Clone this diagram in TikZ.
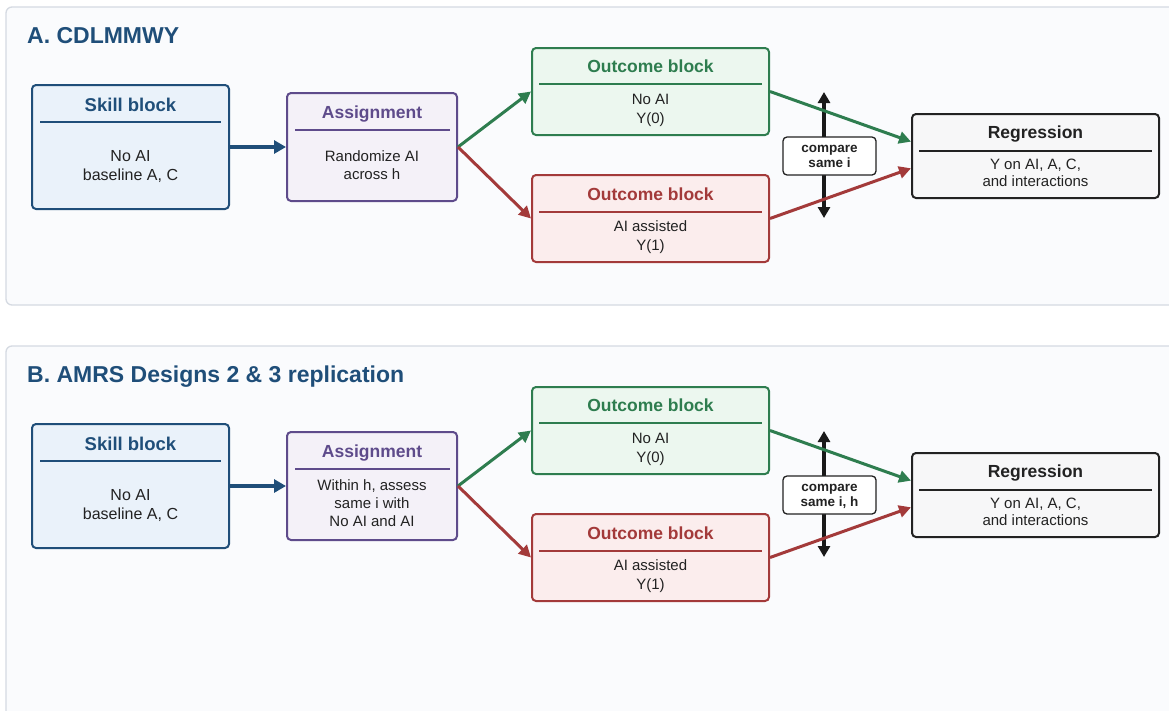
\documentclass[tikz,border=0pt]{standalone}
\usepackage{fontspec}
\setmainfont{Liberation Sans}
\usetikzlibrary{arrows.meta,calc}
\definecolor{titlec}{HTML}{1F4E79}
\definecolor{panelbd}{HTML}{D5DAE2}
\definecolor{panelfill}{HTML}{FAFBFD}
\definecolor{skillbd}{HTML}{1F4E79}
\definecolor{skillfill}{HTML}{EAF2FA}
\definecolor{asgbd}{HTML}{5E4B8B}
\definecolor{asgfill}{HTML}{F4F1F8}
\definecolor{grnbd}{HTML}{2E7D4F}
\definecolor{grnfill}{HTML}{ECF7EF}
\definecolor{redbd}{HTML}{A33A3A}
\definecolor{redfill}{HTML}{FBEDED}
\definecolor{regbd}{HTML}{222222}
\definecolor{regfill}{HTML}{F7F7F8}
\definecolor{bodyc}{HTML}{222222}
\tikzset{
  panelbox/.style={draw=panelbd, fill=panelfill, line width=1.3pt, rounded corners=6pt},
  blk/.style={line width=2pt, rounded corners=4pt, inner sep=0pt},
  ttl/.style={anchor=base west, inner sep=0pt, text=titlec, font=\bfseries\fontsize{23}{28}\selectfont},
  hd/.style={anchor=base, inner sep=0pt, font=\bfseries\fontsize{17.5}{21}\selectfont},
  bd/.style={anchor=base, inner sep=0pt, text=bodyc, font=\fontsize{15}{19}\selectfont},
  bdl/.style={anchor=base, inner sep=0pt, text=bodyc, font=\fontsize{16}{19}\selectfont},
  cmpt/.style={anchor=base, inner sep=0pt, text=bodyc, font=\bfseries\fontsize{13.5}{15}\selectfont},
  rulel/.style={line width=1.4pt},
  flow/.style={line width=3pt, -{Triangle[length=12pt,width=12pt]}},
  flowthick/.style={line width=3.8pt, -{Triangle[length=12pt,width=13pt]}},
  dbl/.style={line width=3.4pt, draw=black!90, {Triangle[length=11pt,width=12pt]}-{Triangle[length=11pt,width=12pt]}},
  cmpbox/.style={draw=regbd, fill=white, line width=1.3pt, rounded corners=4pt, inner sep=0pt, minimum width=93pt, minimum height=38pt}
}
\newcommand\drawpanel[6]{%
  \draw[panelbox] (6,7+#1) rectangle (1185,#6);
  \node[ttl] (title#2) at (27,43.3+#1) {#3};
  % skill block
  \node[blk, draw=skillbd, fill=skillfill, minimum width=197pt, minimum height=124pt] (skill#2) at (130.5,147+#1) {};
  \node[hd, text=skillbd, font=\bfseries\fontsize{18.5}{21}\selectfont] (skillh#2) at (130.5,111+#1) {Skill block};
  \draw[rulel, skillbd] (40,122+#1) -- (221,122+#1);
  \node[bdl] (skilla#2) at (130.5,161+#1) {No AI};
  \node[bdl] (skillb#2) at (130.5,180+#1) {baseline A, C};
  % assignment
  \node[blk, draw=asgbd, fill=asgfill, minimum width=170pt, minimum height=108pt] (asg#2) at (372,147+#1) {};
  \node[hd, text=asgbd] (asgh#2) at (372,118.5+#1) {Assignment};
  \draw[rulel, asgbd] (295,130+#1) -- (450,130+#1);
  #4
  % outcome green
  \node[blk, draw=grnbd, fill=grnfill, minimum width=237pt, minimum height=87pt] (grn#2) at (650.5,91.5+#1) {};
  \node[hd, text=grnbd] (grnh#2) at (650.5,72.5+#1) {Outcome block};
  \draw[rulel, grnbd] (539,84+#1) -- (762,84+#1);
  \node[bd] (grna#2) at (650.5,104.3+#1) {No AI};
  \node[bd] (grnb#2) at (650.5,123+#1) {Y(0)};
  % outcome red
  \node[blk, draw=redbd, fill=redfill, minimum width=237pt, minimum height=87pt] (red#2) at (650.5,218.5+#1) {};
  \node[hd, text=redbd] (redh#2) at (650.5,200+#1) {Outcome block};
  \draw[rulel, redbd] (539,212+#1) -- (762,212+#1);
  \node[bd] (reda#2) at (650.5,231+#1) {AI assisted};
  \node[bd] (redb#2) at (650.5,250+#1) {Y(1)};
  % regression
  \node[blk, draw=regbd, fill=regfill, minimum width=247pt, minimum height=84pt] (reg#2) at (1035.5,156+#1) {};
  \node[hd, text=regbd] (regh#2) at (1035.5,138.5+#1) {Regression};
  \draw[rulel, regbd] (919,151+#1) -- (1152,151+#1);
  \node[bd] (rega#2) at (1035.5,169.3+#1) {Y on AI, A, C,};
  \node[bd] (regb#2) at (1035.5,186.5+#1) {and interactions};
  % compare
  \coordinate (cmpTop#2) at (824,92+#1);
  \coordinate (cmpBot#2) at (824,218+#1);
  \draw[dbl] (cmpTop#2) -- (cmpBot#2);
  \node[cmpbox] (cmp#2) at (829.5,156+#1) {};
  \node[cmpt] (cmpa#2) at (829.5,152.5+#1) {compare};
  \node[cmpt] (cmpb#2) at (829.5,167.5+#1) {#5};
  % flows
  \draw[flowthick, skillbd] (skill#2.east) -- (asg#2.west);
  \draw[flow, grnbd] (asg#2.east) -- (grn#2.west);
  \draw[flow, redbd] (asg#2.east) -- (red#2.west);
  \draw[flow, grnbd] (grn#2.east) -- ($(reg#2.north west)!0.333!(reg#2.south west)$);
  \draw[flow, redbd] (red#2.east) -- ($(reg#2.north west)!0.643!(reg#2.south west)$);
}
\begin{document}
\begin{tikzpicture}[x=1pt,y=-1pt]
\useasboundingbox (0,0) rectangle (1169,710);
\fill[white] (0,0) rectangle (1169,710);
\drawpanel{0}{A}{A. CDLMMWY}{%
  \node[bd] (asgaA) at (372,161) {Randomize AI};
  \node[bd] (asgbA) at (372,179.5) {across h};}{same i}{305}
\drawpanel{339}{B}{B. AMRS Designs 2 \& 3 replication}{%
  \node[bd] (asgaB) at (372,490) {Within h, assess};
  \node[bd] (asgbB) at (372,508.3) {same i with};
  \node[bd] (asgcB) at (372,526.3) {No AI and AI};}{same i, h}{730}
\end{tikzpicture}
\end{document}
